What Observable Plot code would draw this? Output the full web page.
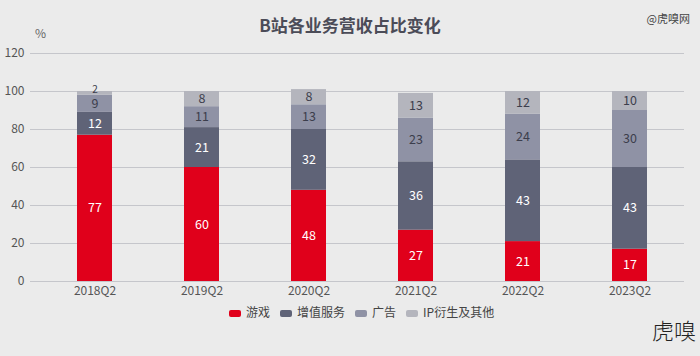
<!DOCTYPE html>
<html><head><meta charset="utf-8">
<script src="https://cdn.jsdelivr.net/npm/d3@7"></script>
<script src="https://cdn.jsdelivr.net/npm/@observablehq/plot@0.6"></script>
<style>
html,body{margin:0;padding:0;background:#ebebeb;}
#wrap{position:relative;width:700px;height:356px;font-family:"Noto Sans CJK SC","Noto Sans",sans-serif;overflow:hidden;}
#title{position:absolute;left:0;width:700px;top:12px;text-align:center;font-size:17px;font-weight:bold;color:#4b4c58;}
#pct{position:absolute;left:35px;top:24px;font-size:12px;color:#666;}
#src{position:absolute;right:10px;top:10px;font-size:11px;color:#444;}
#legend{position:absolute;left:229px;top:303px;font-size:12px;color:#444;display:flex;gap:10px;}
#legend span.sw{display:inline-block;width:12px;height:7px;border-radius:2px;margin-right:5px;vertical-align:middle;}
#mark{position:absolute;left:652px;top:313px;font-size:22px;font-weight:300;color:#222;}
#chart{position:absolute;left:0;top:0;}
</style></head>
<body><div id="wrap">
<div id="chart"></div>
<div id="title">B站各业务营收占比变化</div>
<div id="pct">%</div>
<div id="src">@虎嗅网</div>
<div id="legend"></div>
<div id="mark">虎嗅</div>
</div>
<script>
const quarters = ["2018Q2","2019Q2","2020Q2","2021Q2","2022Q2","2023Q2"];
const seriesNames = ["游戏","增值服务","广告","IP衍生及其他"];
const games = [77,60,48,27,21,17];
const vas = [12,21,32,36,43,43];
const ads = [9,11,13,23,24,30];
const ip = [2,8,8,13,12,10];
const yTicks = [0,20,40,60,80,100,120];
const colors = ["#e0001b","#5f6377","#8f92a5","#b4b5bd"];
const labelColors = ["#ffffff","#ffffff","#3c3e4c","#3c3e4c"];

const values = [games, vas, ads, ip];
const data = [];
seriesNames.forEach((s,i)=>quarters.forEach((q,j)=>data.push({q, s, v: values[i][j], lc: labelColors[i]})));

const stackText = {x: "q", y: "v", z: "s", order: seriesNames, text: "v", fill: "lc"};

const chart = Plot.plot({
  width: 700, height: 356,
  marginTop: 53, marginBottom: 75, marginLeft: 30, marginRight: 16,
  style: {background: "transparent", fontFamily: "'Noto Sans CJK SC','Noto Sans',sans-serif", fontSize: "12px", color: "#555"},
  x: {domain: quarters, paddingInner: 0.675, paddingOuter: 0.3375, insetLeft: 10, label: null, tickSize: 0, tickPadding: 5},
  y: {domain: [0,120], ticks: yTicks, label: null, tickSize: 0, tickPadding: 6},
  color: {domain: seriesNames, range: colors},
  marks: [
    Plot.ruleY(yTicks, {stroke: "#c5c6cb", strokeWidth: 1.2}),
    Plot.barY(data, {x: "q", y: "v", fill: "s", order: seriesNames}),
    Plot.text(data, Plot.filter(d => d.v >= 5, Plot.stackY({...stackText, fontSize: 12.5}))),
    Plot.text(data, Plot.filter(d => d.v < 5, Plot.stackY({...stackText, fontSize: 10, dy: -4})))
  ]
});
document.getElementById("chart").appendChild(chart);

const lg = document.getElementById("legend");
seriesNames.forEach((s,i)=>{
  const d = document.createElement("div");
  d.innerHTML = `<span class="sw" style="background:${colors[i]}"></span>${s}`;
  lg.appendChild(d);
});
</script>
</body></html>
